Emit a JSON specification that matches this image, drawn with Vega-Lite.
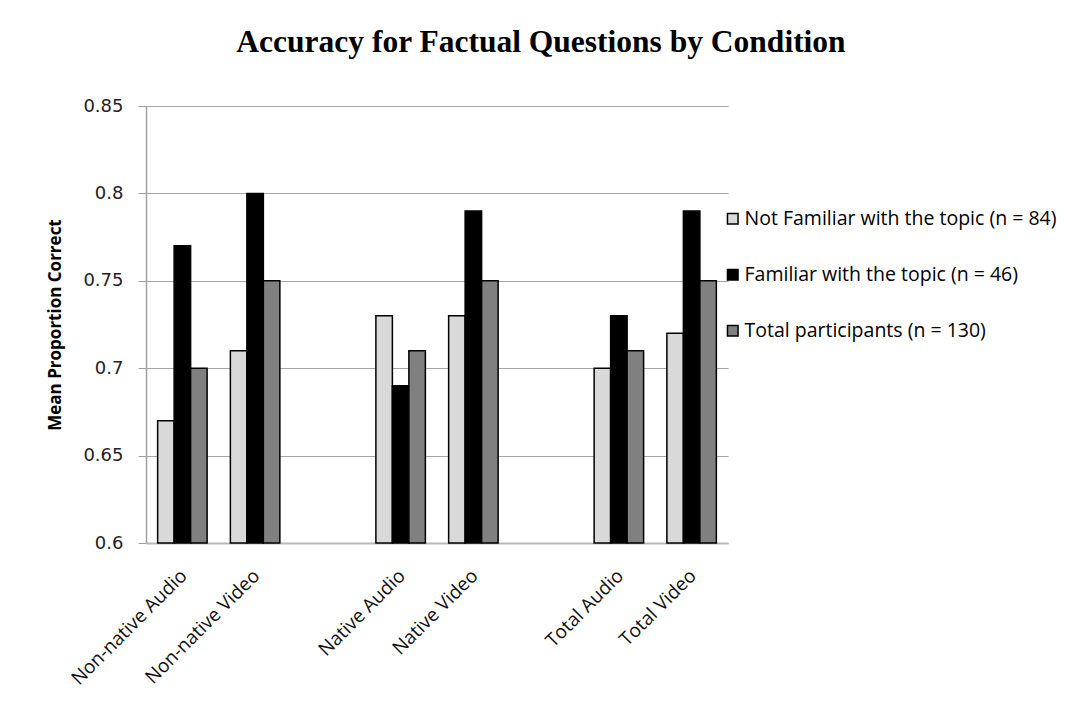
{
  "$schema": "https://vega.github.io/schema/vega-lite/v6.json",
  "width": 582,
  "height": 437,
  "autosize": {"type": "none"},
  "padding": {"left": 146, "top": 106, "right": 337, "bottom": 178},
  "background": "white",
  "title": {
    "text": "Accuracy for Factual Questions by Condition",
    "font": "Liberation Serif",
    "fontSize": 31.5,
    "fontWeight": "bold",
    "color": "black",
    "anchor": "middle",
    "frame": "group",
    "dx": 104,
    "baseline": "alphabetic",
    "offset": 14
  },
  "data": {
    "values": [
      {"cond": "Non-native Audio", "grp": "Not Familiar with the topic (n = 84)", "val": 0.67},
      {"cond": "Non-native Audio", "grp": "Familiar with the topic (n = 46)", "val": 0.77},
      {"cond": "Non-native Audio", "grp": "Total participants (n = 130)", "val": 0.70},
      {"cond": "Non-native Video", "grp": "Not Familiar with the topic (n = 84)", "val": 0.71},
      {"cond": "Non-native Video", "grp": "Familiar with the topic (n = 46)", "val": 0.80},
      {"cond": "Non-native Video", "grp": "Total participants (n = 130)", "val": 0.75},
      {"cond": "Native Audio", "grp": "Not Familiar with the topic (n = 84)", "val": 0.73},
      {"cond": "Native Audio", "grp": "Familiar with the topic (n = 46)", "val": 0.69},
      {"cond": "Native Audio", "grp": "Total participants (n = 130)", "val": 0.71},
      {"cond": "Native Video", "grp": "Not Familiar with the topic (n = 84)", "val": 0.73},
      {"cond": "Native Video", "grp": "Familiar with the topic (n = 46)", "val": 0.79},
      {"cond": "Native Video", "grp": "Total participants (n = 130)", "val": 0.75},
      {"cond": "Total Audio", "grp": "Not Familiar with the topic (n = 84)", "val": 0.70},
      {"cond": "Total Audio", "grp": "Familiar with the topic (n = 46)", "val": 0.73},
      {"cond": "Total Audio", "grp": "Total participants (n = 130)", "val": 0.71},
      {"cond": "Total Video", "grp": "Not Familiar with the topic (n = 84)", "val": 0.72},
      {"cond": "Total Video", "grp": "Familiar with the topic (n = 46)", "val": 0.79},
      {"cond": "Total Video", "grp": "Total participants (n = 130)", "val": 0.75}
    ]
  },
  "mark": {"type": "bar", "stroke": "black", "strokeWidth": 1.5},
  "encoding": {
    "x": {
      "field": "cond",
      "type": "nominal",
      "scale": {
        "domain": ["Non-native Audio", "Non-native Video", " ", "Native Audio", "Native Video", "  ", "Total Audio", "Total Video"],
        "paddingInner": 0.32,
        "paddingOuter": 0.16
      },
      "axis": {
        "title": null,
        "grid": false,
        "ticks": false,
        "tickSize": 0,
        "domainColor": "#b8b8b8",
        "domainWidth": 2,
        "labelAngle": -45,
        "labelAlign": "right",
        "labelBaseline": "top",
        "labelPadding": 23,
        "labelOffset": -5,
        "labelFont": "Open Sans",
        "labelFontSize": 19,
        "labelColor": "#111111",
        "labelLimit": 300
      }
    },
    "xOffset": {
      "field": "grp",
      "type": "nominal",
      "scale": {
        "domain": ["Not Familiar with the topic (n = 84)", "Familiar with the topic (n = 46)", "Total participants (n = 130)"],
        "paddingInner": 0,
        "paddingOuter": 0
      }
    },
    "y": {
      "field": "val",
      "type": "quantitative",
      "scale": {"domain": [0.6, 0.85], "zero": false, "nice": false},
      "axis": {
        "values": [0.6, 0.65, 0.7, 0.75, 0.8, 0.85],
        "format": ".2~f",
        "grid": true,
        "gridColor": "#a6a6a6",
        "gridWidth": 1,
        "domainColor": "#a0a0a0",
        "domainWidth": 1.5,
        "tickColor": "#a0a0a0",
        "tickSize": 8,
        "labelFont": "DejaVu Sans",
        "labelFontSize": 18,
        "labelColor": "#222222",
        "labelPadding": 15,
        "title": "Mean Proportion Correct",
        "titleFont": "Open Sans",
        "titleFontSize": 17,
        "titleFontWeight": "bold",
        "titleColor": "black",
        "titlePadding": 18
      }
    },
    "y2": {"datum": 0.6},
    "color": {
      "field": "grp",
      "type": "nominal",
      "scale": {
        "domain": ["Not Familiar with the topic (n = 84)", "Familiar with the topic (n = 46)", "Total participants (n = 130)"],
        "range": ["#d9d9d9", "#000000", "#808080"]
      },
      "legend": {
        "title": null,
        "orient": "none",
        "legendX": 577,
        "legendY": 103,
        "padding": 0,
        "symbolType": "square",
        "symbolSize": 112,
        "symbolStrokeColor": "black",
        "symbolStrokeWidth": 1.5,
        "labelFont": "Open Sans",
        "labelFontSize": 19.5,
        "labelColor": "black",
        "labelOffset": 2,
        "labelLimit": 400,
        "rowPadding": 35
      }
    }
  },
  "config": {"view": {"stroke": null}}
}
